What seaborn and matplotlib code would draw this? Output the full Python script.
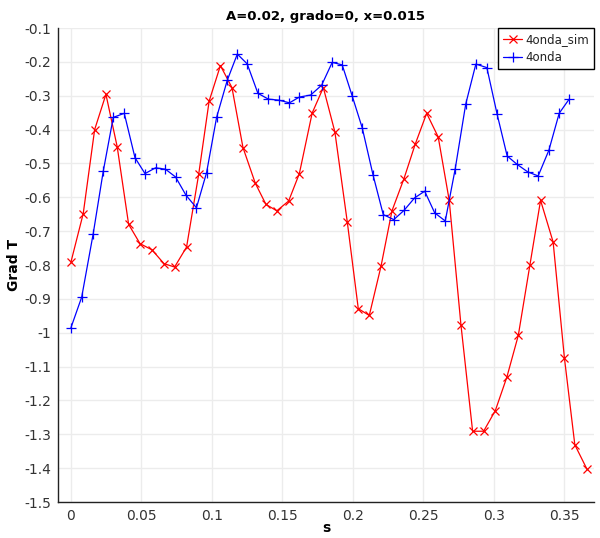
import matplotlib
matplotlib.use("Agg")
import matplotlib.pyplot as plt
import seaborn as sns
import pandas as pd

sim_s = [0, 0.0087, 0.0168, 0.0248, 0.0328, 0.0409, 0.049, 0.0574, 0.066, 0.0735,
         0.082, 0.0906, 0.098, 0.106, 0.1142, 0.122, 0.1307, 0.1383, 0.146, 0.1544,
         0.162, 0.1711, 0.179, 0.1872, 0.196, 0.2038, 0.2116, 0.2199, 0.2277, 0.2362,
         0.2442, 0.2523, 0.2605, 0.2683, 0.2766, 0.2849, 0.2927, 0.301, 0.3092, 0.3173,
         0.3255, 0.3331, 0.342, 0.350, 0.3574, 0.366]
sim_g = [-0.791, -0.648, -0.400, -0.296, -0.451, -0.680, -0.737, -0.755, -0.796, -0.806,
         -0.747, -0.532, -0.316, -0.211, -0.276, -0.453, -0.558, -0.621, -0.640, -0.611,
         -0.530, -0.351, -0.276, -0.407, -0.673, -0.929, -0.949, -0.804, -0.640, -0.545,
         -0.443, -0.352, -0.422, -0.609, -0.976, -1.291, -1.291, -1.230, -1.131, -1.008,
         -0.801, -0.609, -0.732, -1.074, -1.331, -1.403]

onda_s = [0, 0.0076, 0.0158, 0.0229, 0.030, 0.0378, 0.0454, 0.0525, 0.060, 0.067,
          0.0742, 0.0816, 0.089, 0.0962, 0.1033, 0.1109, 0.118, 0.125, 0.1326, 0.140,
          0.1473, 0.155, 0.162, 0.170, 0.1778, 0.1853, 0.1924, 0.1995, 0.2066, 0.2142,
          0.2215, 0.229, 0.2364, 0.2437, 0.2509, 0.258, 0.2655, 0.2726, 0.280, 0.2872,
          0.295, 0.3023, 0.3094, 0.3165, 0.324, 0.3314, 0.339, 0.3463, 0.3534]
onda_g = [-0.985, -0.895, -0.707, -0.523, -0.364, -0.352, -0.483, -0.530, -0.513, -0.517,
          -0.540, -0.594, -0.631, -0.527, -0.364, -0.254, -0.177, -0.206, -0.293, -0.310,
          -0.313, -0.321, -0.304, -0.298, -0.269, -0.2015, -0.209, -0.301, -0.395, -0.533,
          -0.651, -0.666, -0.638, -0.602, -0.582, -0.646, -0.670, -0.515, -0.325, -0.2065,
          -0.217, -0.355, -0.478, -0.503, -0.525, -0.537, -0.461, -0.352, -0.310]

xticks = [0, 0.05, 0.1, 0.15, 0.2, 0.25, 0.3, 0.35]
xtick_labels = ["0", "0.05", "0.1", "0.15", "0.2", "0.25", "0.3", "0.35"]
yticks = [-0.1, -0.2, -0.3, -0.4, -0.5, -0.6, -0.7, -0.8, -0.9, -1.0, -1.1, -1.2, -1.3, -1.4, -1.5]
ytick_labels = ["-0.1", "-0.2", "-0.3", "-0.4", "-0.5", "-0.6", "-0.7", "-0.8", "-0.9", "-1",
                "-1.1", "-1.2", "-1.3", "-1.4", "-1.5"]

sns.set_theme(style="whitegrid")
plt.rcParams['font.family'] = ['DejaVu Sans']

fig = plt.figure(figsize=(6.0, 5.38), dpi=100)
ax = fig.add_axes([58/600, 1-502/538, (594-58)/600, (502-28)/538])

df_sim = pd.DataFrame({"s": sim_s, "g": sim_g})
df_onda = pd.DataFrame({"s": onda_s, "g": onda_g})

sns.lineplot(data=df_sim, x="s", y="g", ax=ax, color="#ff0000", marker="x",
             markersize=5.5, markeredgewidth=0.9, markeredgecolor="#ff0000",
             linewidth=0.9, label="4onda_sim", sort=False, errorbar=None)
sns.lineplot(data=df_onda, x="s", y="g", ax=ax, color="#0000ff", marker="+",
             markersize=7, markeredgewidth=0.9, markeredgecolor="#0000ff",
             linewidth=0.9, label="4onda", sort=False, errorbar=None)

ax.set_xlim(-0.0092, 0.371)
ax.set_ylim(-1.5, -0.1)
ax.set_xticks(xticks)
ax.set_xticklabels(xtick_labels)
ax.set_yticks(yticks)
ax.set_yticklabels(ytick_labels)
ax.tick_params(axis='both', labelsize=10, labelcolor="#333333", color="#222222",
               length=3, width=1, pad=2, direction="out")
ax.grid(True, color="#ececec", linewidth=1.0)
for side in ["top", "right"]:
    ax.spines[side].set_visible(False)
for side in ["left", "bottom"]:
    ax.spines[side].set_visible(True)
    ax.spines[side].set_color("#222222")
    ax.spines[side].set_linewidth(1.0)

ax.set_title("A=0.02, grado=0, x=0.015", fontsize=9.5, fontweight="bold", pad=6, color="black")
ax.set_xlabel("s", fontsize=10, fontweight="bold", color="black")
ax.xaxis.set_label_coords(0.5, -(528 - 502) / 474, transform=ax.transAxes)
ax.xaxis.label.set_verticalalignment("center")
ax.set_ylabel("Grad T", fontsize=10, fontweight="bold", labelpad=2, color="black")

leg = ax.legend(loc="upper right", fontsize=8.5, frameon=True, fancybox=False,
                edgecolor="black", framealpha=1.0, borderpad=0.4, handlelength=1.6,
                handletextpad=0.3, labelspacing=0.45, borderaxespad=0.0)
leg.get_frame().set_linewidth(1.0)
for t in leg.get_texts():
    t.set_color("#222222")

fig.savefig("out.png", dpi=100)
